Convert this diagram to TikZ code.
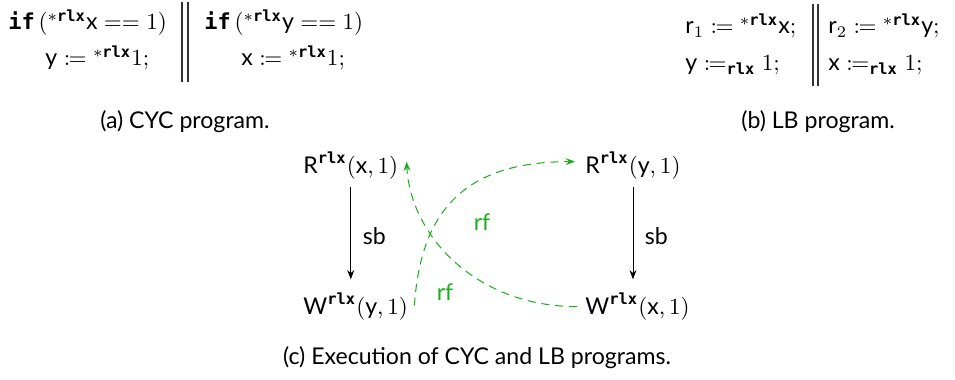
\documentclass[tikz,border=0pt]{standalone}
\usepackage{amsmath,mathtools}
\usepackage{fontspec}
\newfontfamily\bio{Lato}
\newfontfamily\cmono{DejaVu Sans Mono}[Scale=0.95]
\usetikzlibrary{arrows.meta}
\newcommand{\V}[1]{\text{\bio #1}}
\newcommand{\rlx}{\text{\cmono\bfseries rlx}}
\newcommand{\kwif}{\text{\cmono\bfseries if}}
\definecolor{rfgreen}{RGB}{30,175,30}
\tikzset{
  txt/.style={inner sep=0pt, font=\bio},
  sbarrow/.style={-{Stealth[length=4pt,width=3pt]}, line width=0.4pt, shorten <=2.8pt, shorten >=5.5pt},
  rfline/.style={rfgreen, dash pattern=on 3.5pt off 2.5pt, -{Stealth[length=4pt,width=3pt]}, line width=0.45pt},
  rflab/.style={inner sep=0pt, font=\bio, text=rfgreen},
  sblab/.style={inner sep=0pt, font=\bio, right=5pt},
  sepbar/.style={line width=0.5pt, black!80}
}
\begin{document}
\begin{tikzpicture}[x=0.433pt,y=-0.433pt]
\useasboundingbox (0,0) rectangle (955,380);
% panel (a)
\node[txt, anchor=base west] (a1) at (8,30) {$\kwif\,({}^{*\rlx}\V{x} == 1)$};
\node[txt, anchor=base west] (a2) at (45,66) {$\V{y} \coloneqq {}^{*\rlx}1;$};
\node[txt, anchor=base west] (a3) at (204,30) {$\kwif\,({}^{*\rlx}\V{y} == 1)$};
\node[txt, anchor=base west] (a4) at (241,66) {$\V{x} \coloneqq {}^{*\rlx}1;$};
\draw[sepbar] (182,2) -- (182,82);
\draw[sepbar] (188,2) -- (188,82);
\node[txt, anchor=base] (capa) at (185,129) {(a) CYC program.};
% panel (b)
\node[txt, anchor=base west] (b1) at (685,34) {$\V{r}_1 \coloneqq {}^{*\rlx}\V{x};$};
\node[txt, anchor=base west] (b2) at (685,71) {$\V{y} \coloneqq_{\rlx} 1;$};
\node[txt, anchor=base west] (b3) at (828,34) {$\V{r}_2 \coloneqq {}^{*\rlx}\V{y};$};
\node[txt, anchor=base west] (b4) at (828,71) {$\V{x} \coloneqq_{\rlx} 1;$};
\draw[sepbar] (813,4) -- (813,86);
\draw[sepbar] (818,4) -- (818,86);
\node[txt, anchor=base] (capb) at (818,129) {(b) LB program.};
% panel (c)
\node[txt, anchor=base west] (R1) at (303,174) {$\V{R}^{\rlx}(\V{x}, 1)$};
\node[txt, anchor=base west] (W1) at (303,315) {$\V{W}^{\rlx}(\V{y}, 1)$};
\node[txt, anchor=base west] (R2) at (585,174) {$\V{R}^{\rlx}(\V{y}, 1)$};
\node[txt, anchor=base west] (W2) at (585,315) {$\V{W}^{\rlx}(\V{x}, 1)$};
\draw[sbarrow] (R1.south) -- node[sblab] (sb1) {sb} (R1.south |- W1.north);
\draw[sbarrow] (R2.south) -- node[sblab] (sb2) {sb} (R2.south |- W2.north);
\draw[rfline] ([shift={(6,-1)}]W1.east) .. controls +(6,-90) and +(-115,0) .. ([shift={(-10,-4)}]R2.west);
\draw[rfline] ([shift={(-8,0)}]W2.west) .. controls +(-100,0) and +(4,75) .. ([shift={(8,-4)}]R1.east);
\node[rflab] (rf1) at (482,222) {rf};
\node[rflab] (rf2) at (445,292) {rf};
\node[txt, anchor=base] (capc) at (477,365) {(c) Execution of CYC and LB programs.};
\end{tikzpicture}
\end{document}
